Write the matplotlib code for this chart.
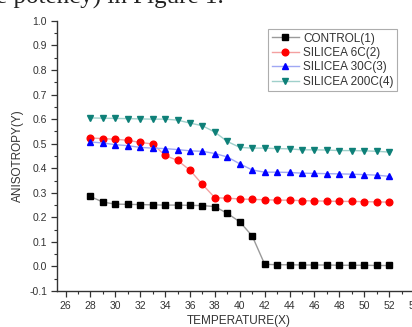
import matplotlib
matplotlib.use("Agg")
import matplotlib.pyplot as plt
from matplotlib.ticker import MultipleLocator

plt.rcParams['font.family'] = ['Liberation Sans', 'DejaVu Sans']

# Datos
temps = list(range(28, 53))
control = [0.285, 0.262, 0.254, 0.253, 0.252, 0.251, 0.250, 0.250, 0.249, 0.248, 0.244,
           0.216, 0.182, 0.124, 0.009, 0.007, 0.007, 0.006, 0.006, 0.006, 0.005, 0.005,
           0.005, 0.004, 0.004]
silicea_6c = [0.523, 0.521, 0.518, 0.514, 0.505, 0.499, 0.452, 0.432, 0.392, 0.334, 0.280,
              0.278, 0.275, 0.273, 0.272, 0.270, 0.270, 0.268, 0.267, 0.266, 0.265, 0.265,
              0.264, 0.263, 0.262]
silicea_30c = [0.507, 0.503, 0.496, 0.492, 0.485, 0.482, 0.480, 0.476, 0.471, 0.469, 0.460,
               0.446, 0.418, 0.393, 0.384, 0.384, 0.383, 0.380, 0.379, 0.378, 0.377, 0.376,
               0.374, 0.372, 0.367]
silicea_200c = [0.605, 0.604, 0.603, 0.602, 0.601, 0.600, 0.600, 0.596, 0.584, 0.573, 0.547,
                0.509, 0.485, 0.482, 0.482, 0.480, 0.479, 0.475, 0.475, 0.474, 0.472, 0.472,
                0.471, 0.469, 0.466]

series = [
    ("CONTROL(1)", control, 's', 'black', '#9a9a9a'),
    ("SILICEA 6C(2)", silicea_6c, 'o', 'red', '#f4a0a0'),
    ("SILICEA 30C(3)", silicea_30c, '^', 'blue', '#a0a8f4'),
    ("SILICEA 200C(4)", silicea_200c, 'v', '#0e8078', '#9fd0cb'),
]

fig = plt.figure(figsize=(4.12, 3.27), dpi=100)
ax = fig.add_axes([0.138, 0.110, 0.885, 0.826])

for label, vals, mk, col, lcol in series:
    ax.plot(temps, vals, color=lcol, linewidth=1.0, marker=mk, markersize=4.8,
            markerfacecolor=col, markeredgecolor=col, label=label)

ax.set_xlim(25.3, 54.6)
ax.set_ylim(-0.1, 1.0)
ax.xaxis.set_major_locator(MultipleLocator(2))
ax.xaxis.set_minor_locator(MultipleLocator(1))
ax.yaxis.set_major_locator(MultipleLocator(0.1))
ax.yaxis.set_minor_locator(MultipleLocator(0.05))
ax.yaxis.set_major_formatter(plt.FuncFormatter(lambda v, p: f"{v:.1f}"))

ax.spines['top'].set_visible(False)
ax.spines['right'].set_visible(False)
for s in ['left', 'bottom']:
    ax.spines[s].set_linewidth(1.0)
    ax.spines[s].set_color('#333333')
ax.tick_params(which='major', direction='out', length=4, width=0.9, labelsize=7.5,
               colors='#333333', pad=3)
ax.tick_params(which='minor', direction='out', length=2, width=0.8, colors='#333333')

ax.set_xlabel("TEMPERATURE(X)", fontsize=8.5, color='#333333', labelpad=3)
ax.set_ylabel("ANISOTROPY(Y)", fontsize=8.5, color='#333333', labelpad=4)

leg = ax.legend(loc='upper left', bbox_to_anchor=(0.579, 0.970), fontsize=8.5,
                frameon=True, fancybox=False, handlelength=2.3, handletextpad=0.4,
                borderpad=0.3, labelspacing=0.2, borderaxespad=0)
leg.get_frame().set_edgecolor('#999999')
leg.get_frame().set_linewidth(0.8)
for t in leg.get_texts():
    t.set_color('#333333')

# Texto del documento cortado en la parte superior
fig.text(-0.01, 0.988, "e potency) in Figure 1.", fontsize=18, family='Liberation Serif',
         va='baseline', ha='left', color='#222222')

fig.savefig("out.png", dpi=100)
